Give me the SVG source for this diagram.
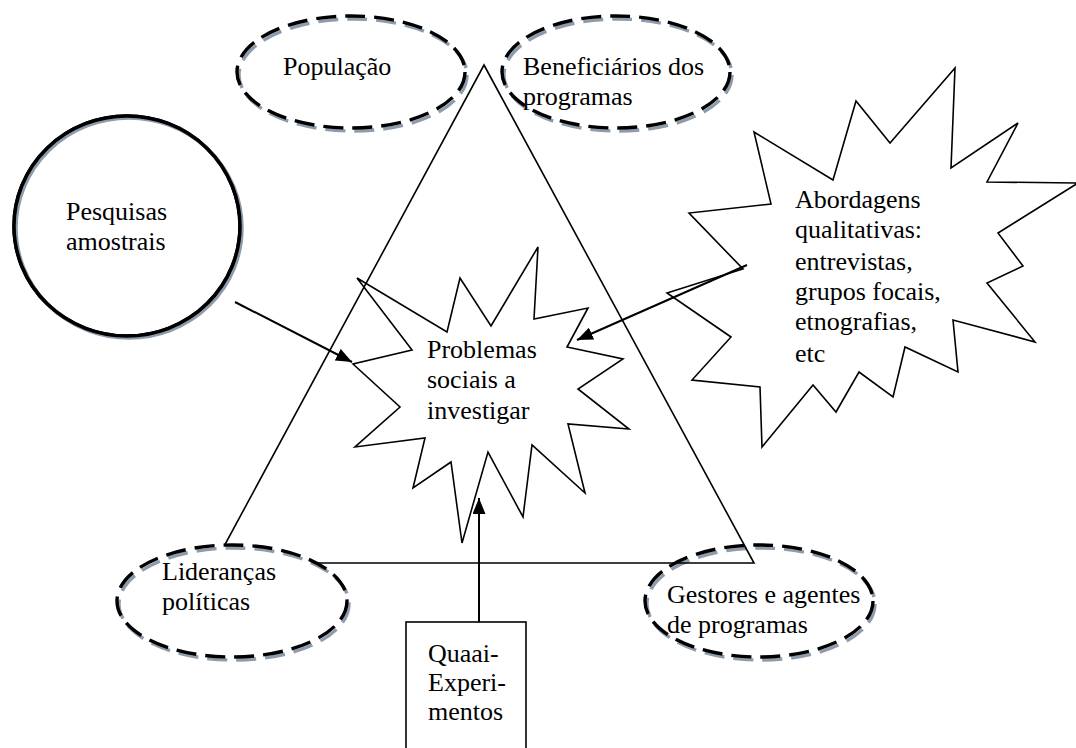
<svg xmlns="http://www.w3.org/2000/svg" width="1076" height="748" viewBox="0 0 1076 748">
  <defs>
    <style>
      text { font-family: "Liberation Serif", "Times New Roman", serif; font-size: 26px; fill: #000; }
      .dash { fill: none; stroke: #000; stroke-width: 3.4; stroke-dasharray: 20 9; }
      .dash-sh { fill: none; stroke: #8d9bab; stroke-width: 3.4; stroke-dasharray: 20 9; }
      .bg { fill: #fff; stroke: none; }
      .thin { fill: #fff; stroke: #000; stroke-width: 1.6; stroke-linejoin: miter; }
      .tri { fill: none; stroke: #000; stroke-width: 1.6; }
      .conn { fill: none; stroke: #000; stroke-width: 2; }
      .ring { fill: #fff; stroke: #000; stroke-width: 3.5; }
      .ring-sh { fill: none; stroke: #8d9bab; stroke-width: 3.5; }
    </style>
    <marker id="head" viewBox="0 0 16 13" refX="16" refY="6.5" markerWidth="16" markerHeight="13" markerUnits="userSpaceOnUse" orient="auto">
      <path d="M0,0 L16,6.5 L0,13 Z" fill="#000"/>
    </marker>
  </defs>
  <rect width="1076" height="748" fill="#fff"/>

  <!-- Gestores e agentes de programas (drawn below the triangle) -->
  <g id="gestores">
    <ellipse class="bg" cx="759" cy="601" rx="114" ry="56"/>
    <ellipse class="dash-sh" cx="761" cy="604" rx="114" ry="56"/>
    <ellipse class="dash" cx="759" cy="601" rx="114" ry="56"/>
    <text x="667" y="603">Gestores e agentes</text>
    <text x="667" y="633">de programas</text>
  </g>

  <!-- central burst -->
  <g id="problemas">
    <polygon class="thin" points="357,278 447,332 460,278 491,326 538,247 534,319 588,308 567,347 623,359 578,389 629,429 568,424 585,493 532,445 523,517 488,452 462,543 451,462 413,488 425,438 355,447 400,407 353,364 412,350"/>
  </g>

  <!-- triangle -->
  <g id="triangulo">
    <polygon class="tri" points="484,65 754,563 215,563"/>
  </g>

  <g id="problemas-texto">
    <text x="427" y="358">Problemas</text>
    <text x="427" y="388">sociais a</text>
    <text x="427" y="419">investigar</text>
  </g>

  <!-- População -->
  <g id="populacao">
    <ellipse class="bg" cx="351" cy="72" rx="114" ry="56"/>
    <ellipse class="dash-sh" cx="353" cy="75" rx="114" ry="56"/>
    <ellipse class="dash" cx="351" cy="72" rx="114" ry="56"/>
    <text x="283" y="75">População</text>
  </g>

  <!-- Beneficiários dos programas -->
  <g id="beneficiarios">
    <ellipse class="bg" cx="616" cy="72" rx="114" ry="56"/>
    <ellipse class="dash-sh" cx="618" cy="75" rx="114" ry="56"/>
    <ellipse class="dash" cx="616" cy="72" rx="114" ry="56"/>
    <text x="523" y="75">Beneficiários dos</text>
    <text x="523" y="105">programas</text>
  </g>

  <!-- Lideranças políticas -->
  <g id="liderancas">
    <ellipse class="bg" cx="232" cy="601" rx="115" ry="56"/>
    <ellipse class="dash-sh" cx="234" cy="604" rx="115" ry="56"/>
    <ellipse class="dash" cx="232" cy="601" rx="115" ry="56"/>
    <text x="162" y="580">Lideranças</text>
    <text x="162" y="610">políticas</text>
  </g>

  <!-- Pesquisas amostrais: black ring with a grey offset shadow -->
  <g id="pesquisas">
    <ellipse class="ring" cx="127" cy="226" rx="113" ry="110"/>
    <ellipse class="ring-sh" cx="129" cy="228" rx="113" ry="110"/>
    <ellipse class="ring" cx="127" cy="226" rx="113" ry="110" style="fill:none"/>
    <text x="66" y="220">Pesquisas</text>
    <text x="66" y="250">amostrais</text>
  </g>

  <!-- Abordagens qualitativas -->
  <g id="abordagens">
    <polygon class="thin" points="955,68 951,168 1018,123 987,182 1078,183 998,233 1023,266 987,283 1035,342 953,320 958,372 905,347 893,397 859,372 836,412 813,385 762,447 760,387 692,380 731,337 667,293 743,269 689,213 771,204 754,132 833,180 856,101 890,143"/>
    <text x="795" y="208">Abordagens</text>
    <text x="795" y="238">qualitativas:</text>
    <text x="795" y="270">entrevistas,</text>
    <text x="795" y="300">grupos focais,</text>
    <text x="795" y="330">etnografias,</text>
    <text x="795" y="362">etc</text>
  </g>

  <!-- Quaai-Experimentos -->
  <g id="quase-experimentos">
    <rect class="thin" x="406" y="622" width="120" height="140"/>
    <text x="428" y="662">Quaai-</text>
    <text x="428" y="691">Experi-</text>
    <text x="428" y="720">mentos</text>
  </g>

  <!-- connectors -->
  <g id="conectores">
    <line class="conn" x1="235" y1="302" x2="352" y2="362" marker-end="url(#head)"/>
    <line class="conn" x1="747" y1="265" x2="577" y2="340" marker-end="url(#head)"/>
    <line class="conn" x1="479" y1="622" x2="479" y2="498" marker-end="url(#head)"/>
  </g>
</svg>
